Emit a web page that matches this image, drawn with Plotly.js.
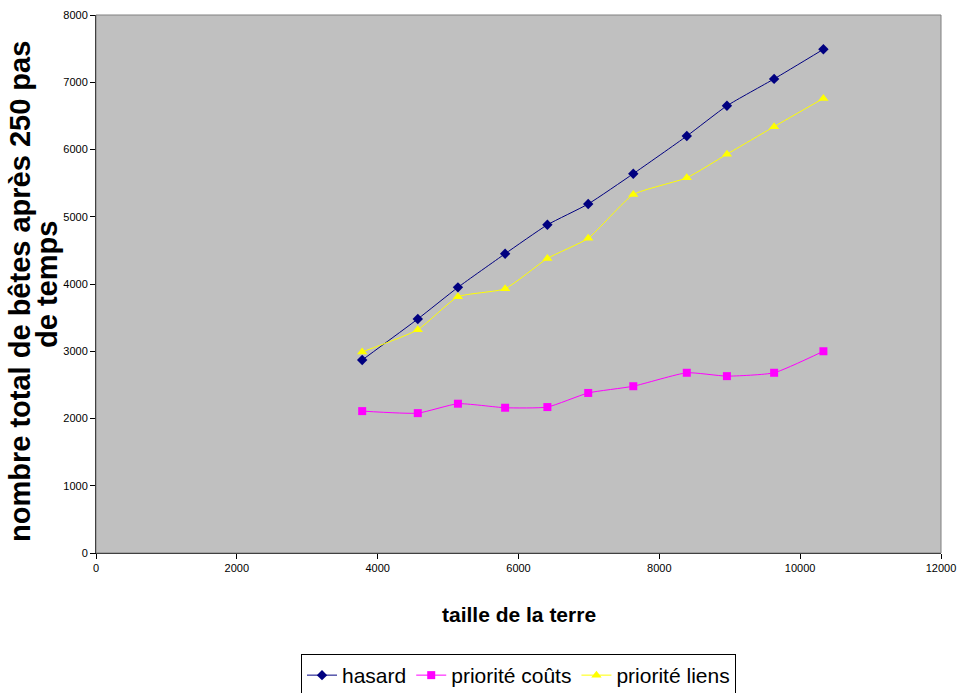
<!DOCTYPE html>
<html>
<head>
<meta charset="utf-8">
<script src="https://cdn.plot.ly/plotly-3.0.1.min.js"></script>
<style>html,body{margin:0;padding:0;background:#fff;}#chart{width:961px;height:693px;}</style>
</head>
<body>
<div id="chart"></div>
<script>
const tailleTerre = [3780, 4570, 5140, 5810, 6410, 6990, 7630, 8390, 8960, 9630, 10330];
const hasard = [2870, 3480, 3950, 4450, 4880, 5190, 5640, 6200, 6650, 7050, 7490];
const prioriteCouts = [2110, 2080, 2220, 2160, 2170, 2380, 2480, 2680, 2630, 2680, 3000];
const prioriteLiens = [2990, 3320, 3810, 3930, 4380, 4680, 5330, 5580, 5930, 6340, 6760];
const seriesNames = ["hasard", "priorité coûts", "priorité liens"];
const xTicks = [0, 2000, 4000, 6000, 8000, 10000, 12000];
const yTicks = [0, 1000, 2000, 3000, 4000, 5000, 6000, 7000, 8000];
const xTitle = 'taille de la terre';
const yTitleLine1 = 'nombre total de bêtes après 250 pas';
const yTitleLine2 = 'de temps';

const mk = (y, name, color, symbol, size) => ({
  x: tailleTerre, y: y, name: name, type: 'scatter', mode: 'lines+markers',
  line: {color: color, width: 1, shape: 'spline', smoothing: 0.5},
  marker: {color: color, symbol: symbol, size: size}
});

const data = [
  mk(hasard, seriesNames[0], '#000080', 'diamond', 8),
  mk(prioriteCouts, seriesNames[1], '#ff00ff', 'square', 8),
  mk(prioriteLiens, seriesNames[2], '#ffff00', 'triangle-up', 9)
];

const yTitleFont = {size: 29, color: '#000', weight: 'bold'};

const layout = {
  width: 961, height: 693,
  margin: {l: 96, r: 20, t: 15, b: 140, autoexpand: false},
  paper_bgcolor: '#ffffff',
  plot_bgcolor: '#c0c0c0',
  font: {family: 'Arial, Liberation Sans, sans-serif', color: '#000'},
  showlegend: true,
  xaxis: {
    range: [0, 12000], tickvals: xTicks, ticktext: xTicks.map(String),
    showgrid: false, zeroline: false, showline: true, linecolor: '#000', linewidth: 1,
    ticks: 'outside', ticklen: 5, tickcolor: '#000',
    tickfont: {size: 11, color: '#000'}
  },
  yaxis: {
    range: [0, 8000], tickvals: yTicks, ticktext: yTicks.map(String),
    showgrid: false, zeroline: false, showline: true, linecolor: '#000', linewidth: 1,
    ticks: 'outside', ticklen: 5, tickcolor: '#000',
    tickfont: {size: 11, color: '#000'}
  },
  annotations: [
    {text: xTitle, xref: 'paper', yref: 'paper', x: 0.5, y: -0.1152, xanchor: 'center', yanchor: 'middle',
     showarrow: false, font: {size: 21, color: '#000', weight: 'bold'}},
    {text: yTitleLine1, xref: 'paper', yref: 'paper', x: -0.0900, y: 0.487, xanchor: 'center', yanchor: 'middle',
     textangle: -90, showarrow: false, font: yTitleFont},
    {text: yTitleLine2, xref: 'paper', yref: 'paper', x: -0.0580, y: 0.500, xanchor: 'center', yanchor: 'middle',
     textangle: -90, showarrow: false, font: yTitleFont}
  ],
  shapes: [{type: 'rect', xref: 'paper', yref: 'paper', x0: 0, x1: 1, y0: 0, y1: 1, line: {color: '#808080', width: 1}}],
  legend: {
    orientation: 'h', x: 0.5, xanchor: 'center', y: -0.1877, yanchor: 'top',
    bordercolor: '#000', borderwidth: 1, bgcolor: '#fff',
    font: {size: 21, color: '#000'}, itemwidth: 30, tracegroupgap: 0
  }
};

Plotly.newPlot('chart', data, layout, {displayModeBar: false, staticPlot: true});
</script>
</body>
</html>
